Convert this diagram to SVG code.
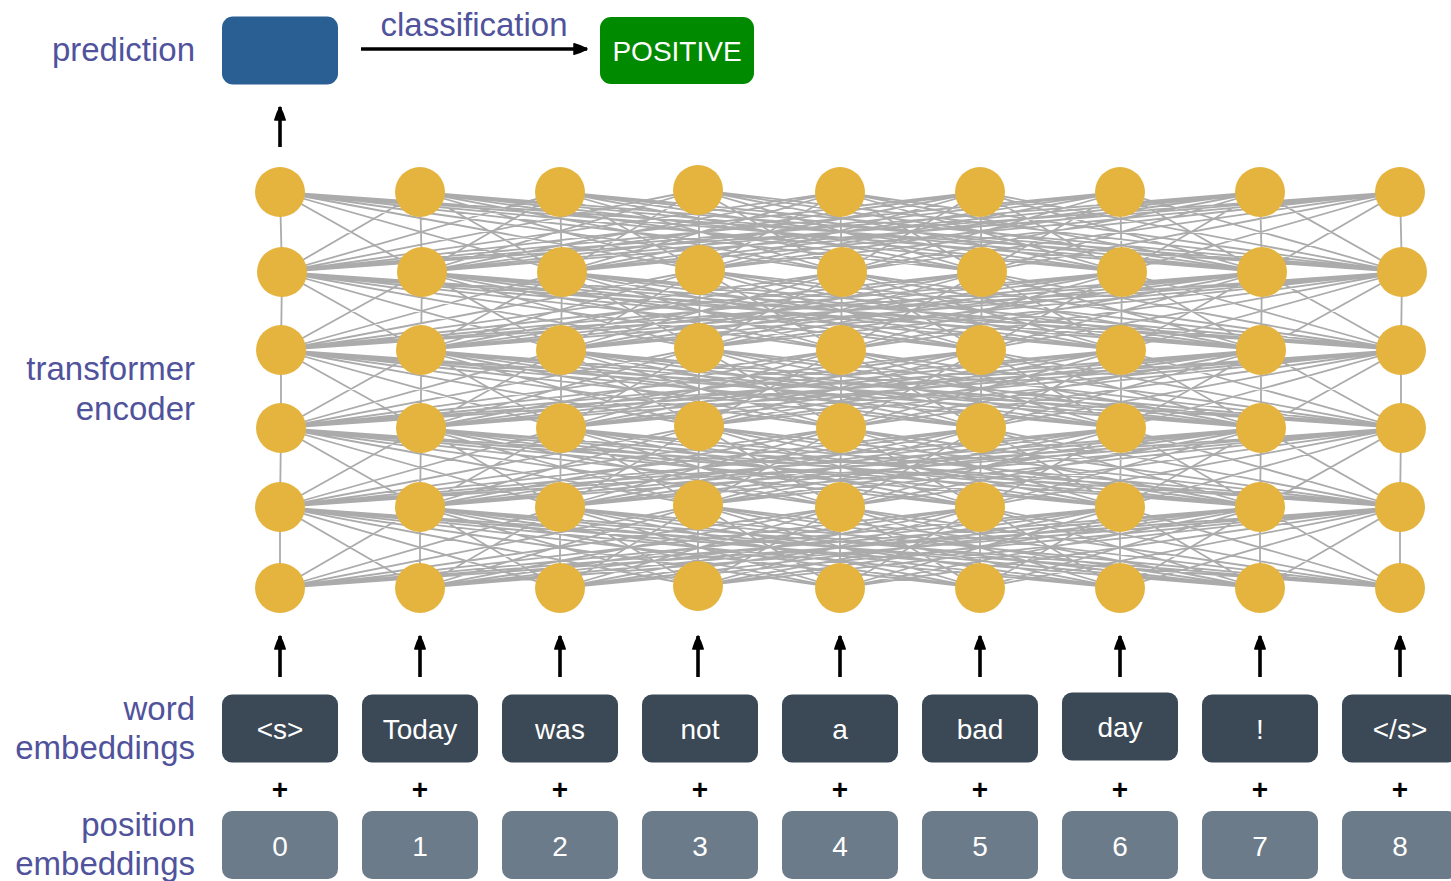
<svg xmlns="http://www.w3.org/2000/svg" width="1451" height="881" viewBox="0 0 1451 881">
  <style>
    .label { font-family: "Liberation Sans", Arial, sans-serif; font-size: 33px; fill: #50539C; text-anchor: end; }
    .cls { font-family: "Liberation Sans", Arial, sans-serif; font-size: 33px; fill: #50539C; text-anchor: middle; }
    .tok { font-family: "Liberation Sans", Arial, sans-serif; font-size: 28px; fill: #FFFFFF; text-anchor: middle; }
    .plus { font-family: "Liberation Sans", Arial, sans-serif; font-size: 28px; font-weight: bold; fill: #000000; text-anchor: middle; }
    .word { fill: #3B4855; }
    .pos { fill: #6B7B8A; }
    .node { fill: #E5B43F; }
    .mesh { fill: none; stroke: #ABABAB; stroke-width: 1.8; stroke-linejoin: round; }
    .arrow { stroke: #000000; stroke-width: 3.6; fill: none; marker-end: url(#head); }
  </style>
  <defs>
    <marker id="head" viewBox="0 0 16 14" refX="14.5" refY="7" markerWidth="16" markerHeight="14" markerUnits="userSpaceOnUse" orient="auto">
      <path d="M1.5,1.8 Q8,3.5 14.5,7 Q8,10.5 1.5,12.2 Z" fill="#000000" stroke="#000000" stroke-width="1.5" stroke-linejoin="round"/>
    </marker>
  </defs>

  <!-- side labels -->
  <text class="label" x="195" y="61">prediction</text>
  <text class="label" x="195" y="380">transformer</text>
  <text class="label" x="195" y="420">encoder</text>
  <text class="label" x="195" y="720">word</text>
  <text class="label" x="195" y="759">embeddings</text>
  <text class="label" x="195" y="836">position</text>
  <text class="label" x="195" y="875">embeddings</text>

  <!-- connectors: encoder mesh between consecutive layers, plus flow arrows -->
  <g id="connectors">
    <path class="mesh" d="
M280 192L282 272 280 192 422 272 280 192 562 272 280 192 700 270 280 192 842 272 280 192 982 272 280 192 1122 272 280 192 1262 272 280 192 1402 272
M420 192L282 272 420 192 422 272 420 192 562 272 420 192 700 270 420 192 842 272 420 192 982 272 420 192 1122 272 420 192 1262 272 420 192 1402 272
M560 192L282 272 560 192 422 272 560 192 562 272 560 192 700 270 560 192 842 272 560 192 982 272 560 192 1122 272 560 192 1262 272 560 192 1402 272
M698 190L282 272 698 190 422 272 698 190 562 272 698 190 700 270 698 190 842 272 698 190 982 272 698 190 1122 272 698 190 1262 272 698 190 1402 272
M840 192L282 272 840 192 422 272 840 192 562 272 840 192 700 270 840 192 842 272 840 192 982 272 840 192 1122 272 840 192 1262 272 840 192 1402 272
M980 192L282 272 980 192 422 272 980 192 562 272 980 192 700 270 980 192 842 272 980 192 982 272 980 192 1122 272 980 192 1262 272 980 192 1402 272
M1120 192L282 272 1120 192 422 272 1120 192 562 272 1120 192 700 270 1120 192 842 272 1120 192 982 272 1120 192 1122 272 1120 192 1262 272 1120 192 1402 272
M1260 192L282 272 1260 192 422 272 1260 192 562 272 1260 192 700 270 1260 192 842 272 1260 192 982 272 1260 192 1122 272 1260 192 1262 272 1260 192 1402 272
M1400 192L282 272 1400 192 422 272 1400 192 562 272 1400 192 700 270 1400 192 842 272 1400 192 982 272 1400 192 1122 272 1400 192 1262 272 1400 192 1402 272"/>
    <path class="mesh" d="
M282 272L281 350 282 272 421 350 282 272 561 350 282 272 699 348 282 272 841 350 282 272 981 350 282 272 1121 350 282 272 1261 350 282 272 1401 350
M422 272L281 350 422 272 421 350 422 272 561 350 422 272 699 348 422 272 841 350 422 272 981 350 422 272 1121 350 422 272 1261 350 422 272 1401 350
M562 272L281 350 562 272 421 350 562 272 561 350 562 272 699 348 562 272 841 350 562 272 981 350 562 272 1121 350 562 272 1261 350 562 272 1401 350
M700 270L281 350 700 270 421 350 700 270 561 350 700 270 699 348 700 270 841 350 700 270 981 350 700 270 1121 350 700 270 1261 350 700 270 1401 350
M842 272L281 350 842 272 421 350 842 272 561 350 842 272 699 348 842 272 841 350 842 272 981 350 842 272 1121 350 842 272 1261 350 842 272 1401 350
M982 272L281 350 982 272 421 350 982 272 561 350 982 272 699 348 982 272 841 350 982 272 981 350 982 272 1121 350 982 272 1261 350 982 272 1401 350
M1122 272L281 350 1122 272 421 350 1122 272 561 350 1122 272 699 348 1122 272 841 350 1122 272 981 350 1122 272 1121 350 1122 272 1261 350 1122 272 1401 350
M1262 272L281 350 1262 272 421 350 1262 272 561 350 1262 272 699 348 1262 272 841 350 1262 272 981 350 1262 272 1121 350 1262 272 1261 350 1262 272 1401 350
M1402 272L281 350 1402 272 421 350 1402 272 561 350 1402 272 699 348 1402 272 841 350 1402 272 981 350 1402 272 1121 350 1402 272 1261 350 1402 272 1401 350"/>
    <path class="mesh" d="
M281 350L281 428 281 350 421 428 281 350 561 428 281 350 699 426 281 350 841 428 281 350 981 428 281 350 1121 428 281 350 1261 428 281 350 1401 428
M421 350L281 428 421 350 421 428 421 350 561 428 421 350 699 426 421 350 841 428 421 350 981 428 421 350 1121 428 421 350 1261 428 421 350 1401 428
M561 350L281 428 561 350 421 428 561 350 561 428 561 350 699 426 561 350 841 428 561 350 981 428 561 350 1121 428 561 350 1261 428 561 350 1401 428
M699 348L281 428 699 348 421 428 699 348 561 428 699 348 699 426 699 348 841 428 699 348 981 428 699 348 1121 428 699 348 1261 428 699 348 1401 428
M841 350L281 428 841 350 421 428 841 350 561 428 841 350 699 426 841 350 841 428 841 350 981 428 841 350 1121 428 841 350 1261 428 841 350 1401 428
M981 350L281 428 981 350 421 428 981 350 561 428 981 350 699 426 981 350 841 428 981 350 981 428 981 350 1121 428 981 350 1261 428 981 350 1401 428
M1121 350L281 428 1121 350 421 428 1121 350 561 428 1121 350 699 426 1121 350 841 428 1121 350 981 428 1121 350 1121 428 1121 350 1261 428 1121 350 1401 428
M1261 350L281 428 1261 350 421 428 1261 350 561 428 1261 350 699 426 1261 350 841 428 1261 350 981 428 1261 350 1121 428 1261 350 1261 428 1261 350 1401 428
M1401 350L281 428 1401 350 421 428 1401 350 561 428 1401 350 699 426 1401 350 841 428 1401 350 981 428 1401 350 1121 428 1401 350 1261 428 1401 350 1401 428"/>
    <path class="mesh" d="
M281 428L280 507 281 428 420 507 281 428 560 507 281 428 698 505 281 428 840 507 281 428 980 507 281 428 1120 507 281 428 1260 507 281 428 1400 507
M421 428L280 507 421 428 420 507 421 428 560 507 421 428 698 505 421 428 840 507 421 428 980 507 421 428 1120 507 421 428 1260 507 421 428 1400 507
M561 428L280 507 561 428 420 507 561 428 560 507 561 428 698 505 561 428 840 507 561 428 980 507 561 428 1120 507 561 428 1260 507 561 428 1400 507
M699 426L280 507 699 426 420 507 699 426 560 507 699 426 698 505 699 426 840 507 699 426 980 507 699 426 1120 507 699 426 1260 507 699 426 1400 507
M841 428L280 507 841 428 420 507 841 428 560 507 841 428 698 505 841 428 840 507 841 428 980 507 841 428 1120 507 841 428 1260 507 841 428 1400 507
M981 428L280 507 981 428 420 507 981 428 560 507 981 428 698 505 981 428 840 507 981 428 980 507 981 428 1120 507 981 428 1260 507 981 428 1400 507
M1121 428L280 507 1121 428 420 507 1121 428 560 507 1121 428 698 505 1121 428 840 507 1121 428 980 507 1121 428 1120 507 1121 428 1260 507 1121 428 1400 507
M1261 428L280 507 1261 428 420 507 1261 428 560 507 1261 428 698 505 1261 428 840 507 1261 428 980 507 1261 428 1120 507 1261 428 1260 507 1261 428 1400 507
M1401 428L280 507 1401 428 420 507 1401 428 560 507 1401 428 698 505 1401 428 840 507 1401 428 980 507 1401 428 1120 507 1401 428 1260 507 1401 428 1400 507"/>
    <path class="mesh" d="
M280 507L280 588 280 507 420 588 280 507 560 588 280 507 698 586 280 507 840 588 280 507 980 588 280 507 1120 588 280 507 1260 588 280 507 1400 588
M420 507L280 588 420 507 420 588 420 507 560 588 420 507 698 586 420 507 840 588 420 507 980 588 420 507 1120 588 420 507 1260 588 420 507 1400 588
M560 507L280 588 560 507 420 588 560 507 560 588 560 507 698 586 560 507 840 588 560 507 980 588 560 507 1120 588 560 507 1260 588 560 507 1400 588
M698 505L280 588 698 505 420 588 698 505 560 588 698 505 698 586 698 505 840 588 698 505 980 588 698 505 1120 588 698 505 1260 588 698 505 1400 588
M840 507L280 588 840 507 420 588 840 507 560 588 840 507 698 586 840 507 840 588 840 507 980 588 840 507 1120 588 840 507 1260 588 840 507 1400 588
M980 507L280 588 980 507 420 588 980 507 560 588 980 507 698 586 980 507 840 588 980 507 980 588 980 507 1120 588 980 507 1260 588 980 507 1400 588
M1120 507L280 588 1120 507 420 588 1120 507 560 588 1120 507 698 586 1120 507 840 588 1120 507 980 588 1120 507 1120 588 1120 507 1260 588 1120 507 1400 588
M1260 507L280 588 1260 507 420 588 1260 507 560 588 1260 507 698 586 1260 507 840 588 1260 507 980 588 1260 507 1120 588 1260 507 1260 588 1260 507 1400 588
M1400 507L280 588 1400 507 420 588 1400 507 560 588 1400 507 698 586 1400 507 840 588 1400 507 980 588 1400 507 1120 588 1400 507 1260 588 1400 507 1400 588"/>

    <!-- input arrows into the encoder -->
    <line class="arrow" x1="280" y1="677" x2="280" y2="636"/>
    <line class="arrow" x1="420" y1="677" x2="420" y2="636"/>
    <line class="arrow" x1="560" y1="677" x2="560" y2="636"/>
    <line class="arrow" x1="698" y1="677" x2="698" y2="636"/>
    <line class="arrow" x1="840" y1="677" x2="840" y2="636"/>
    <line class="arrow" x1="980" y1="677" x2="980" y2="636"/>
    <line class="arrow" x1="1120" y1="677" x2="1120" y2="636"/>
    <line class="arrow" x1="1260" y1="677" x2="1260" y2="636"/>
    <line class="arrow" x1="1400" y1="677" x2="1400" y2="636"/>

    <!-- output arrows -->
    <line class="arrow" x1="280" y1="147" x2="280" y2="107"/>
    <line class="arrow" x1="361" y1="49" x2="587" y2="49"/>
  </g>
  <text class="cls" x="474" y="36">classification</text>

  <!-- prediction and class output -->
  <g id="prediction"><rect x="222" y="16.5" width="116" height="68" rx="11" fill="#2A5F93"/></g>
  <g id="positive">
    <rect x="600" y="17" width="154" height="67" rx="11" fill="#008A00"/>
    <text class="tok" x="677" y="61">POSITIVE</text>
  </g>

  <!-- encoder nodes -->
  <g id="n-0-0"><circle class="node" cx="280" cy="192" r="25"/></g>
  <g id="n-1-0"><circle class="node" cx="420" cy="192" r="25"/></g>
  <g id="n-2-0"><circle class="node" cx="560" cy="192" r="25"/></g>
  <g id="n-3-0"><circle class="node" cx="698" cy="190" r="25"/></g>
  <g id="n-4-0"><circle class="node" cx="840" cy="192" r="25"/></g>
  <g id="n-5-0"><circle class="node" cx="980" cy="192" r="25"/></g>
  <g id="n-6-0"><circle class="node" cx="1120" cy="192" r="25"/></g>
  <g id="n-7-0"><circle class="node" cx="1260" cy="192" r="25"/></g>
  <g id="n-8-0"><circle class="node" cx="1400" cy="192" r="25"/></g>

  <g id="n-0-1"><circle class="node" cx="282" cy="272" r="25"/></g>
  <g id="n-1-1"><circle class="node" cx="422" cy="272" r="25"/></g>
  <g id="n-2-1"><circle class="node" cx="562" cy="272" r="25"/></g>
  <g id="n-3-1"><circle class="node" cx="700" cy="270" r="25"/></g>
  <g id="n-4-1"><circle class="node" cx="842" cy="272" r="25"/></g>
  <g id="n-5-1"><circle class="node" cx="982" cy="272" r="25"/></g>
  <g id="n-6-1"><circle class="node" cx="1122" cy="272" r="25"/></g>
  <g id="n-7-1"><circle class="node" cx="1262" cy="272" r="25"/></g>
  <g id="n-8-1"><circle class="node" cx="1402" cy="272" r="25"/></g>

  <g id="n-0-2"><circle class="node" cx="281" cy="350" r="25"/></g>
  <g id="n-1-2"><circle class="node" cx="421" cy="350" r="25"/></g>
  <g id="n-2-2"><circle class="node" cx="561" cy="350" r="25"/></g>
  <g id="n-3-2"><circle class="node" cx="699" cy="348" r="25"/></g>
  <g id="n-4-2"><circle class="node" cx="841" cy="350" r="25"/></g>
  <g id="n-5-2"><circle class="node" cx="981" cy="350" r="25"/></g>
  <g id="n-6-2"><circle class="node" cx="1121" cy="350" r="25"/></g>
  <g id="n-7-2"><circle class="node" cx="1261" cy="350" r="25"/></g>
  <g id="n-8-2"><circle class="node" cx="1401" cy="350" r="25"/></g>

  <g id="n-0-3"><circle class="node" cx="281" cy="428" r="25"/></g>
  <g id="n-1-3"><circle class="node" cx="421" cy="428" r="25"/></g>
  <g id="n-2-3"><circle class="node" cx="561" cy="428" r="25"/></g>
  <g id="n-3-3"><circle class="node" cx="699" cy="426" r="25"/></g>
  <g id="n-4-3"><circle class="node" cx="841" cy="428" r="25"/></g>
  <g id="n-5-3"><circle class="node" cx="981" cy="428" r="25"/></g>
  <g id="n-6-3"><circle class="node" cx="1121" cy="428" r="25"/></g>
  <g id="n-7-3"><circle class="node" cx="1261" cy="428" r="25"/></g>
  <g id="n-8-3"><circle class="node" cx="1401" cy="428" r="25"/></g>

  <g id="n-0-4"><circle class="node" cx="280" cy="507" r="25"/></g>
  <g id="n-1-4"><circle class="node" cx="420" cy="507" r="25"/></g>
  <g id="n-2-4"><circle class="node" cx="560" cy="507" r="25"/></g>
  <g id="n-3-4"><circle class="node" cx="698" cy="505" r="25"/></g>
  <g id="n-4-4"><circle class="node" cx="840" cy="507" r="25"/></g>
  <g id="n-5-4"><circle class="node" cx="980" cy="507" r="25"/></g>
  <g id="n-6-4"><circle class="node" cx="1120" cy="507" r="25"/></g>
  <g id="n-7-4"><circle class="node" cx="1260" cy="507" r="25"/></g>
  <g id="n-8-4"><circle class="node" cx="1400" cy="507" r="25"/></g>

  <g id="n-0-5"><circle class="node" cx="280" cy="588" r="25"/></g>
  <g id="n-1-5"><circle class="node" cx="420" cy="588" r="25"/></g>
  <g id="n-2-5"><circle class="node" cx="560" cy="588" r="25"/></g>
  <g id="n-3-5"><circle class="node" cx="698" cy="586" r="25"/></g>
  <g id="n-4-5"><circle class="node" cx="840" cy="588" r="25"/></g>
  <g id="n-5-5"><circle class="node" cx="980" cy="588" r="25"/></g>
  <g id="n-6-5"><circle class="node" cx="1120" cy="588" r="25"/></g>
  <g id="n-7-5"><circle class="node" cx="1260" cy="588" r="25"/></g>
  <g id="n-8-5"><circle class="node" cx="1400" cy="588" r="25"/></g>

  <!-- word embeddings -->
  <g id="w0"><rect class="word" x="222" y="694.5" width="116" height="68" rx="10"/><text class="tok" x="280" y="739">&lt;s&gt;</text></g>
  <g id="w1"><rect class="word" x="362" y="694.5" width="116" height="68" rx="10"/><text class="tok" x="420" y="739">Today</text></g>
  <g id="w2"><rect class="word" x="502" y="694.5" width="116" height="68" rx="10"/><text class="tok" x="560" y="739">was</text></g>
  <g id="w3"><rect class="word" x="642" y="694.5" width="116" height="68" rx="10"/><text class="tok" x="700" y="739">not</text></g>
  <g id="w4"><rect class="word" x="782" y="694.5" width="116" height="68" rx="10"/><text class="tok" x="840" y="739">a</text></g>
  <g id="w5"><rect class="word" x="922" y="694.5" width="116" height="68" rx="10"/><text class="tok" x="980" y="739">bad</text></g>
  <g id="w6"><rect class="word" x="1062" y="692.5" width="116" height="68" rx="10"/><text class="tok" x="1120" y="737">day</text></g>
  <g id="w7"><rect class="word" x="1202" y="694.5" width="116" height="68" rx="10"/><text class="tok" x="1260" y="739">!</text></g>
  <g id="w8"><rect class="word" x="1342" y="694.5" width="116" height="68" rx="10"/><text class="tok" x="1400" y="739">&lt;/s&gt;</text></g>

  <!-- addition signs -->
  <g id="plus">
    <text class="plus" x="280" y="799">+</text>
    <text class="plus" x="420" y="799">+</text>
    <text class="plus" x="560" y="799">+</text>
    <text class="plus" x="700" y="799">+</text>
    <text class="plus" x="840" y="799">+</text>
    <text class="plus" x="980" y="799">+</text>
    <text class="plus" x="1120" y="799">+</text>
    <text class="plus" x="1260" y="799">+</text>
    <text class="plus" x="1400" y="799">+</text>
  </g>

  <!-- position embeddings -->
  <g id="p0"><rect class="pos" x="222" y="811" width="116" height="68" rx="10"/><text class="tok" x="280" y="856">0</text></g>
  <g id="p1"><rect class="pos" x="362" y="811" width="116" height="68" rx="10"/><text class="tok" x="420" y="856">1</text></g>
  <g id="p2"><rect class="pos" x="502" y="811" width="116" height="68" rx="10"/><text class="tok" x="560" y="856">2</text></g>
  <g id="p3"><rect class="pos" x="642" y="811" width="116" height="68" rx="10"/><text class="tok" x="700" y="856">3</text></g>
  <g id="p4"><rect class="pos" x="782" y="811" width="116" height="68" rx="10"/><text class="tok" x="840" y="856">4</text></g>
  <g id="p5"><rect class="pos" x="922" y="811" width="116" height="68" rx="10"/><text class="tok" x="980" y="856">5</text></g>
  <g id="p6"><rect class="pos" x="1062" y="811" width="116" height="68" rx="10"/><text class="tok" x="1120" y="856">6</text></g>
  <g id="p7"><rect class="pos" x="1202" y="811" width="116" height="68" rx="10"/><text class="tok" x="1260" y="856">7</text></g>
  <g id="p8"><rect class="pos" x="1342" y="811" width="116" height="68" rx="10"/><text class="tok" x="1400" y="856">8</text></g>
</svg>
